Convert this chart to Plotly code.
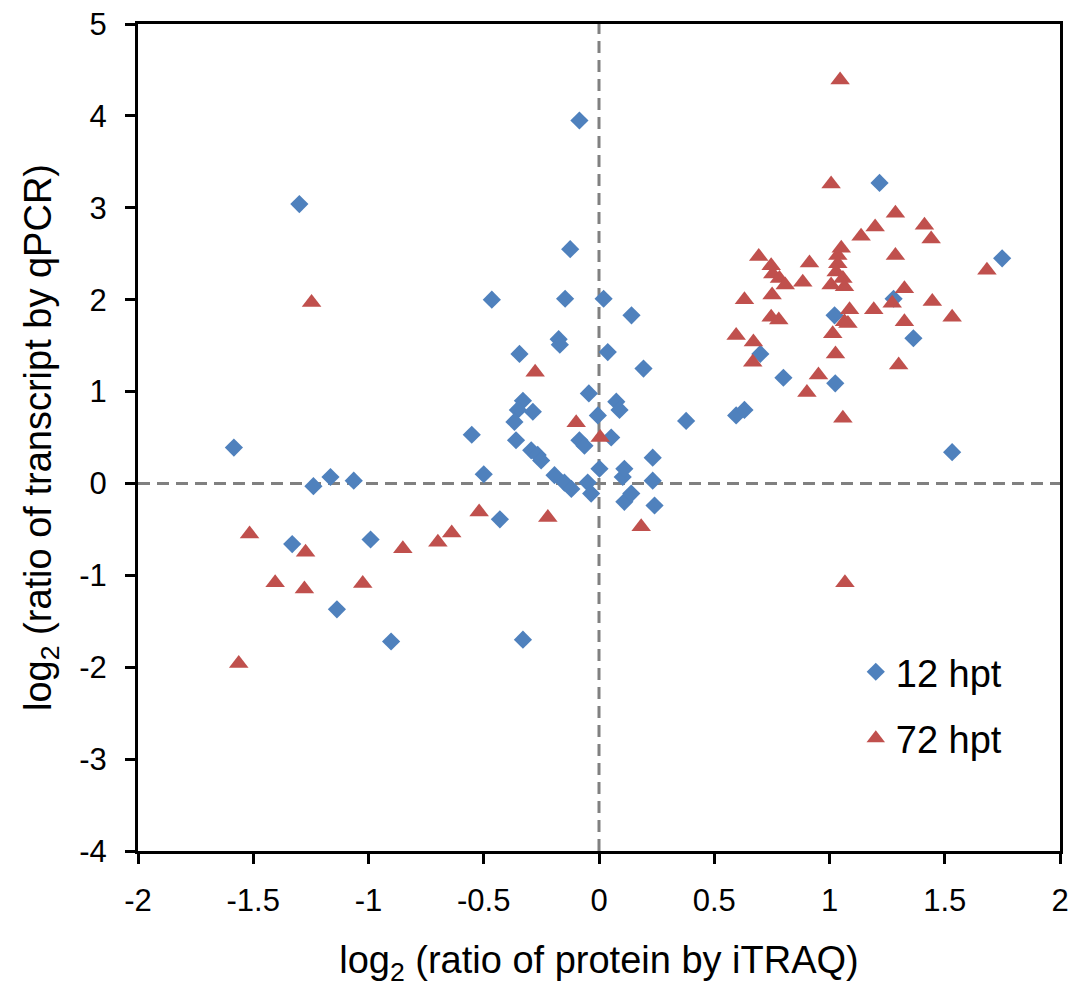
import plotly.graph_objects as go

# 12 hpt (blue diamonds)
x12 = [-1.584, -1.331, -1.30, -1.239, -1.165, -1.137, -1.064, -0.991, -0.902, -0.552,
       -0.50, -0.465, -0.43, -0.345, -0.33, -0.352, -0.367, -0.36, -0.33, -0.294,
       -0.287, -0.266, -0.251, -0.193, -0.175, -0.17, -0.15, -0.147, -0.125, -0.12,
       -0.085, -0.085, -0.063, -0.049, -0.044, -0.034, -0.005, 0.002, 0.02, 0.038,
       0.053, 0.075, 0.089, 0.103, 0.11, 0.11, 0.14, 0.141, 0.193, 0.233,
       0.233, 0.241, 0.378, 0.595, 0.631, 0.70, 0.80, 1.022, 1.025, 1.217,
       1.278, 1.364, 1.532, 1.749]
y12 = [0.39, -0.66, 3.04, -0.03, 0.07, -1.37, 0.03, -0.61, -1.72, 0.53,
       0.10, 2.00, -0.39, 1.41, 0.90, 0.80, 0.67, 0.47, -1.70, 0.36,
       0.78, 0.31, 0.25, 0.09, 1.57, 1.51, 0.01, 2.01, 2.55, -0.06,
       3.95, 0.47, 0.41, 0.01, 0.98, -0.11, 0.74, 0.16, 2.01, 1.43,
       0.50, 0.89, 0.80, 0.07, 0.16, -0.20, -0.11, 1.83, 1.25, 0.28,
       0.03, -0.24, 0.68, 0.74, 0.80, 1.41, 1.15, 1.83, 1.09, 3.27,
       2.01, 1.58, 0.34, 2.45]

# 72 hpt (red triangles)
x72 = [-1.563, -1.516, -1.405, -1.278, -1.273, -1.247, -1.025, -0.851, -0.699, -0.639,
       -0.52, -0.277, -0.222, -0.099, 0.005, 0.183,
       0.595, 0.631, 0.667, 0.67, 0.693, 0.747, 0.751, 0.747, 0.754, 0.78,
       0.783, 0.808, 0.884, 0.902, 0.913, 0.952, 1.007, 1.007, 1.014, 1.026,
       1.036, 1.036, 1.029, 1.046, 1.051, 1.058, 1.065, 1.058, 1.067, 1.065,
       1.08, 1.087, 1.137, 1.192, 1.198, 1.272, 1.286, 1.286, 1.30, 1.325,
       1.325, 1.412, 1.441, 1.446, 1.532, 1.683]
y72 = [-1.96, -0.55, -1.08, -1.15, -0.75, 1.97, -1.09, -0.71, -0.64, -0.54,
       -0.31, 1.21, -0.37, 0.66, 0.50, -0.47,
       1.61, 2.00, 1.32, 1.54, 2.47, 2.37, 2.05, 1.81, 2.28, 1.78,
       2.23, 2.16, 2.19, 0.99, 2.40, 1.18, 3.26, 2.16, 1.63, 1.41,
       2.48, 2.39, 2.30, 4.39, 2.56, 2.23, 2.14, 0.71, -1.08, 1.76,
       1.74, 1.89, 2.69, 1.89, 2.79, 1.96, 2.94, 2.48, 1.29, 2.12,
       1.76, 2.81, 2.66, 1.98, 1.81, 2.32]

x_ticks = [-2, -1.5, -1, -0.5, 0, 0.5, 1, 1.5, 2]
x_ticktext = ["-2", "-1.5", "-1", "-0.5", "0", "0.5", "1", "1.5", "2"]
y_ticks = [-4, -3, -2, -1, 0, 1, 2, 3, 4, 5]
y_ticktext = ["-4", "-3", "-2", "-1", "0", "1", "2", "3", "4", "5"]

BLUE = "#4F81BD"
RED = "#C0504D"
FONT = "Liberation Sans, Arial, sans-serif"

fig = go.Figure()
fig.add_trace(go.Scatter(x=x12, y=y12, mode="markers", name="12 hpt", legendgroup="a",
                         marker=dict(symbol="diamond", size=14, color=BLUE, line=dict(width=0))))
fig.add_trace(go.Scatter(x=x72, y=y72, mode="markers", name="72 hpt", legendgroup="b",
                         marker=dict(symbol="triangle-up", size=17, color=RED, line=dict(width=0))))

dash_style = dict(color="#808080", width=3, dash="12px,7px")
fig.add_shape(type="line", xref="x", yref="paper", x0=0, x1=0, y0=0, y1=1, line=dash_style, layer="below")
fig.add_shape(type="line", xref="paper", yref="y", x0=0, x1=1, y0=0, y1=0, line=dash_style, layer="below")

fig.update_layout(
    width=1083, height=989,
    margin=dict(l=130, r=31, t=16, b=146),
    paper_bgcolor="white", plot_bgcolor="white",
    font=dict(family=FONT, color="black"),
    showlegend=True,
    legend=dict(x=0.7785, y=0.2545, xanchor="left", yanchor="top",
                font=dict(size=38, family=FONT, color="black"),
                bgcolor="rgba(0,0,0,0)", traceorder="grouped", tracegroupgap=14),
    xaxis=dict(range=[-2, 2], tickvals=x_ticks, ticktext=x_ticktext, automargin=False,
               ticks="outside", ticklen=10, tickwidth=3, tickcolor="black",
               ticklabelstandoff=10, ticklabeloverflow="allow",
               showline=True, linewidth=3, linecolor="black", mirror=True,
               showgrid=False, zeroline=False,
               tickfont=dict(size=31, family=FONT, color="black"),
               title=dict(text="log<sub>2</sub> (ratio of protein by iTRAQ)",
                          font=dict(size=38, family=FONT, color="black"), standoff=30)),
    yaxis=dict(range=[-4, 5], tickvals=y_ticks, ticktext=y_ticktext, automargin=False,
               ticks="outside", ticklen=10, tickwidth=3, tickcolor="black",
               ticklabelstandoff=12, ticklabeloverflow="allow",
               showline=True, linewidth=3, linecolor="black", mirror=True,
               showgrid=False, zeroline=False,
               tickfont=dict(size=31, family=FONT, color="black"),
               title=dict(text="log<sub>2</sub> (ratio of transcript by qPCR)",
                          font=dict(size=38, family=FONT, color="black"), standoff=16)),
)

fig.write_html("out.html")
